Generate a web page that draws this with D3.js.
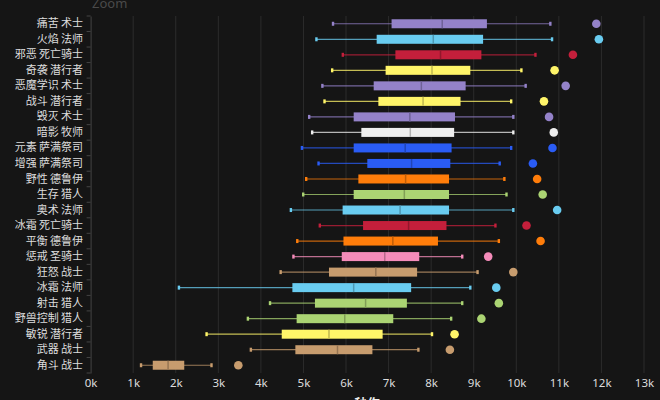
<!DOCTYPE html>
<html><head><meta charset="utf-8">
<script src="https://cdn.jsdelivr.net/npm/d3@7"></script>
<style>
html,body{margin:0;padding:0;background:#151515;}
svg{display:block;}
</style></head>
<body>
<svg id="chart" width="660" height="400"></svg>
<script>
const categories = ["痛苦 术士","火焰 法师","邪恶 死亡骑士","奇袭 潜行者","恶魔学识 术士","战斗 潜行者","毁灭 术士","暗影 牧师","元素 萨满祭司","增强 萨满祭司","野性 德鲁伊","生存 猎人","奥术 法师","冰霜 死亡骑士","平衡 德鲁伊","惩戒 圣骑士","狂怒 战士","冰霜 法师","射击 猎人","野兽控制 猎人","敏锐 潜行者","武器 战士","角斗 战士"];
const classes = ["warlock","mage","dk","rogue","warlock","rogue","warlock","priest","shaman","shaman","druid","hunter","mage","dk","druid","paladin","warrior","mage","hunter","hunter","rogue","warrior","warrior"];
const whiskerLow  = [5690,5300,5920,5670,5440,5490,5130,5200,4960,5350,5060,4990,4700,5380,4850,4760,4460,2070,4210,3690,2720,3760,1180];
const q1          = [7070,6720,7160,6930,6650,6760,6180,6360,6180,6500,6290,6180,5920,6400,5940,5900,5600,4740,5270,4840,4490,4810,1460];
const median      = [8260,8050,8220,8020,7770,7810,7500,7510,7390,7540,7400,7370,7270,7470,7100,6910,6700,6180,6460,5970,5600,5800,1820];
const q3          = [9310,9220,9180,8920,8810,8690,8560,8540,8480,8450,8420,8420,8420,8360,8160,7720,7670,7530,7430,7110,6860,6620,2200];
const whiskerHigh = [10800,10840,10450,10120,10220,9880,9930,9930,9880,9610,9720,9770,9930,9510,9590,8730,9090,8920,8730,8470,8020,7700,2840];
const outlier     = [11880,11940,11330,10900,11160,10650,10770,10880,10850,10390,10490,10620,10960,10240,10570,9340,9930,9530,9590,9180,8550,8440,3470];
const xTicks = [0,1000,2000,3000,4000,5000,6000,7000,8000,9000,10000,11000,12000,13000];
const classColors = {warlock:"#9482C9",mage:"#69CCF0",dk:"#C41F3B",rogue:"#FFF569",priest:"#EEEEEE",shaman:"#2A5CF5",druid:"#FF7D0A",hunter:"#ABD473",paladin:"#F58CBA",warrior:"#C79C6E"};

const data = categories.map((c,i)=>({cat:c,cls:classes[i],lo:whiskerLow[i],q1:q1[i],med:median[i],q3:q3[i],hi:whiskerHigh[i],out:outlier[i]}));

const svg = d3.select("#chart");
const x = d3.scaleLinear().domain([0,13000]).range([90.6,644]);
const y = d3.scaleBand().domain(categories).range([16,373]);
const bw = y.bandwidth();
const boxH = 9;

// title
svg.append("text").attr("x",92).attr("y",8).attr("fill","#4a4a4a").attr("font-family","Noto Sans, sans-serif").attr("font-size",13).text("Zoom");

// grid
svg.append("g").selectAll("line").data(xTicks.slice(1)).join("line")
  .attr("x1",d=>x(d)).attr("x2",d=>x(d)).attr("y1",16).attr("y2",373)
  .attr("stroke","#2c2c2c").attr("stroke-width",1);

// x axis
const xAxis = svg.append("g").attr("transform","translate(0,373)")
  .call(d3.axisBottom(x).tickValues(xTicks).tickFormat(d=>(d/1000)+"k").tickSize(0).tickPadding(6));
xAxis.select(".domain").remove();
xAxis.selectAll("text").attr("fill","#dddddd").attr("font-size",11.5).attr("font-family","Noto Sans, sans-serif");

// y axis
const yAxis = svg.append("g").attr("transform","translate(90.6,0)")
  .call(d3.axisLeft(y).tickSize(0).tickPadding(7.5));
yAxis.select(".domain").attr("stroke","#444");
yAxis.selectAll("text").attr("fill","#dddddd").attr("font-size",11).attr("font-family","Noto Sans CJK SC, sans-serif");
svg.append("g").selectAll("line").data(categories.concat(["__end"])).join("line")
  .attr("x1",86.6).attr("x2",90.6)
  .attr("y1",(d,i)=>16+i*bw).attr("y2",(d,i)=>16+i*bw)
  .attr("stroke","#444");

// boxes
const g = svg.append("g").selectAll("g").data(data).join("g")
  .attr("transform",d=>`translate(0,${y(d.cat)+bw/2})`);
g.append("line").attr("x1",d=>x(d.lo)).attr("x2",d=>x(d.hi)).attr("y1",0).attr("y2",0)
  .attr("stroke",d=>classColors[d.cls]).attr("stroke-opacity",0.75).attr("stroke-width",1.2);
g.append("rect").attr("x",d=>x(d.lo)-1).attr("width",2.4).attr("y",-2).attr("height",4)
  .attr("fill",d=>classColors[d.cls]);
g.append("rect").attr("x",d=>x(d.hi)-1.2).attr("width",2.4).attr("y",-2).attr("height",4)
  .attr("fill",d=>classColors[d.cls]);
g.append("rect").attr("x",d=>x(d.q1)).attr("width",d=>x(d.q3)-x(d.q1)).attr("y",-boxH/2).attr("height",boxH)
  .attr("fill",d=>classColors[d.cls]);
g.append("line").attr("x1",d=>x(d.med)).attr("x2",d=>x(d.med)).attr("y1",-boxH/2).attr("y2",boxH/2)
  .attr("stroke",d=>d3.color(classColors[d.cls]).darker(0.8)).attr("stroke-width",1.5);
g.append("circle").attr("cx",d=>x(d.out)).attr("cy",0).attr("r",4.3)
  .attr("fill",d=>classColors[d.cls]);

// x label
svg.append("text").attr("x",(x(0)+x(13000))/2).attr("y",408).attr("text-anchor","middle")
  .attr("fill","#eeeeee").attr("font-weight","bold").attr("font-size",13).attr("font-family","Noto Sans CJK SC, sans-serif").text("秒伤");
</script>
</body></html>
